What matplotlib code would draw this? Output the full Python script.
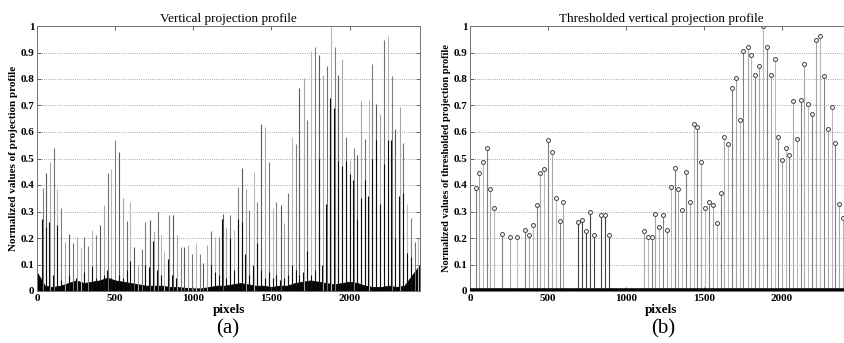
import numpy as np
import matplotlib
matplotlib.use('Agg')
import matplotlib.pyplot as plt

# peak positions (pixels) and normalized heights
peak_x = [36, 58, 81, 107, 130, 156, 205, 254, 303, 353, 378, 402, 427, 451, 476, 500,
          525, 551, 575, 598, 694, 720, 746, 771, 793, 842, 867, 893, 1115, 1139, 1165,
          1188, 1212, 1237, 1263, 1286, 1312, 1335, 1359, 1385, 1410, 1434, 1457, 1483,
          1508, 1532, 1558, 1581, 1607, 1630, 1656, 1679, 1705, 1729, 1754, 1780, 1803,
          1827, 1853, 1878, 1904, 1928, 1953, 1976, 2001, 2026, 2049, 2072, 2098, 2122,
          2145, 2171, 2194, 2220, 2245, 2269, 2293, 2319, 2344, 2367, 2391]
peak_h = [0.39, 0.445, 0.485, 0.54, 0.385, 0.315, 0.215, 0.205, 0.205, 0.23, 0.21, 0.25,
          0.325, 0.445, 0.46, 0.57, 0.525, 0.35, 0.265, 0.335, 0.26, 0.268, 0.225, 0.298,
          0.21, 0.285, 0.285, 0.21, 0.225, 0.205, 0.205, 0.29, 0.24, 0.285, 0.23, 0.394,
          0.463, 0.386, 0.307, 0.449, 0.337, 0.632, 0.619, 0.488, 0.315, 0.335, 0.325,
          0.256, 0.368, 0.581, 0.555, 0.766, 0.804, 0.645, 0.905, 0.921, 0.891, 0.815,
          0.849, 1.0, 0.92, 0.815, 0.875, 0.58, 0.494, 0.54, 0.513, 0.716, 0.572, 0.719,
          0.856, 0.706, 0.668, 0.947, 0.962, 0.811, 0.61, 0.693, 0.557, 0.327, 0.274]
# lower neighbouring sample next to each peak (raw profile only)
shoulder_h = [0.27, 0.24, 0.26, 0.06, 0.25, 0.04, 0.06, 0.05, 0.07, 0.095, 0.05, 0.04,
              0.06, 0.08, 0.05, 0.04, 0.06, 0.05, 0.08, 0.115, 0.10, 0.09, 0.19, 0.08,
              0.06, 0.12, 0.06, 0.05, 0.10, 0.07, 0.06, 0.27, 0.05, 0.20, 0.08, 0.27,
              0.26, 0.14, 0.06, 0.10, 0.18, 0.08, 0.05, 0.07, 0.05, 0.06, 0.04, 0.05,
              0.06, 0.10, 0.08, 0.06, 0.07, 0.15, 0.06, 0.08, 0.50, 0.10, 0.33, 0.73,
              0.69, 0.49, 0.47, 0.49, 0.44, 0.42, 0.27, 0.35, 0.42, 0.36, 0.50, 0.57,
              0.33, 0.48, 0.57, 0.57, 0.20, 0.36, 0.37, 0.145, 0.13]
# peaks below the 0.2 threshold (raw profile only)
minor_x = [181, 230, 279, 328, 620, 645, 669, 815, 918, 942, 967, 991, 1016, 1040,
           1065, 1090, 2415, 2440]
minor_h = [0.186, 0.18, 0.165, 0.17, 0.165, 0.10, 0.16, 0.15, 0.165, 0.165, 0.175,
           0.14, 0.18, 0.14, 0.105, 0.175, 0.185, 0.2]
# low-level background of the raw profile
base_x = list(range(0, 2500, 50))
base_h = [0.07, 0.02, 0.015, 0.02, 0.03, 0.04, 0.03, 0.035, 0.04, 0.05, 0.04, 0.035,
          0.03, 0.025, 0.02, 0.02, 0.02, 0.015, 0.015, 0.012, 0.01, 0.01, 0.015, 0.02,
          0.02, 0.025, 0.03, 0.025, 0.02, 0.02, 0.015, 0.02, 0.02, 0.03, 0.035, 0.04,
          0.035, 0.03, 0.025, 0.03, 0.035, 0.03, 0.02, 0.015, 0.015, 0.02, 0.015, 0.02,
          0.06, 0.1]

plt.rcParams['font.family'] = ['Liberation Serif', 'DejaVu Serif']

fig = plt.figure(figsize=(8.44, 3.43), dpi=100)
ax1 = fig.add_axes([37 / 844, 52 / 343, 383 / 844, 265 / 343])
ax2 = fig.add_axes([470 / 844, 52 / 343, 382 / 844, 265 / 343])

grays = ['0.5', '0.35', '0.65', '0.45', '0.72']

# raw profile
for i, (x, h) in enumerate(zip(peak_x, peak_h)):
    ax1.vlines(x, 0, h, color=grays[i % len(grays)], lw=0.8)
for x, h in zip(peak_x, shoulder_h):
    ax1.vlines(x - 1.5, 0, h, color='0.05', lw=0.8)
for i, (x, h) in enumerate(zip(minor_x, minor_h)):
    ax1.vlines(x, 0, h, color=grays[(i + 2) % len(grays)], lw=0.8)
ax1.fill_between(base_x, 0, base_h, color='black', lw=0.6)
ax1.set_xlim(0, 2450)
ax1.set_title('Vertical projection profile', fontsize=9.5, pad=3)
ax1.set_ylabel('Normalized values of projection profile', fontsize=8, fontweight='bold', labelpad=2)

# thresholded profile
for i, (x, h) in enumerate(zip(peak_x, peak_h)):
    c = '0.25' if 650 < x < 900 else grays[[0, 2, 4][i % 3]]
    ax2.vlines(x, 0, h, color=c, lw=0.8)
ax2.plot(peak_x, peak_h, 'o', ms=2.8, mfc='white', mec='0.25', mew=0.7)
ax2.axhline(0, color='black', lw=4, zorder=3)
ax2.set_xlim(0, 2450)
ax2.set_title('Thresholded vertical projection profile', fontsize=9.5, pad=3)
ax2.set_ylabel('Normalized values of thresholded projection profile', fontsize=7.5,
               fontweight='bold', labelpad=2)

for ax in (ax1, ax2):
    ax.set_ylim(0, 1)
    ax.set_xticks([0, 500, 1000, 1500, 2000])
    ax.set_yticks(np.arange(0, 1.01, 0.1))
    ax.set_yticklabels(['0', '0.1', '0.2', '0.3', '0.4', '0.5', '0.6', '0.7', '0.8', '0.9', '1'])
    ax.tick_params(direction='in', length=3, width=0.6, labelsize=8, pad=2,
                   top=True, right=True, colors='0.3', labelcolor='black')
    for lab in ax.get_xticklabels() + ax.get_yticklabels():
        lab.set_fontweight('bold')
    ax.yaxis.grid(True, ls=':', lw=0.6, color='0.55')
    for s in ax.spines.values():
        s.set_color('0.45')
        s.set_linewidth(0.7)
    ax.set_xlabel('pixels', fontsize=9.5, fontweight='bold', labelpad=1)

fig.text(228 / 844, 1 - 329 / 343, '(a)', ha='center', va='center', fontsize=15)
fig.text(663 / 844, 1 - 329 / 343, '(b)', ha='center', va='center', fontsize=15)

fig.savefig('out.png', dpi=100)
